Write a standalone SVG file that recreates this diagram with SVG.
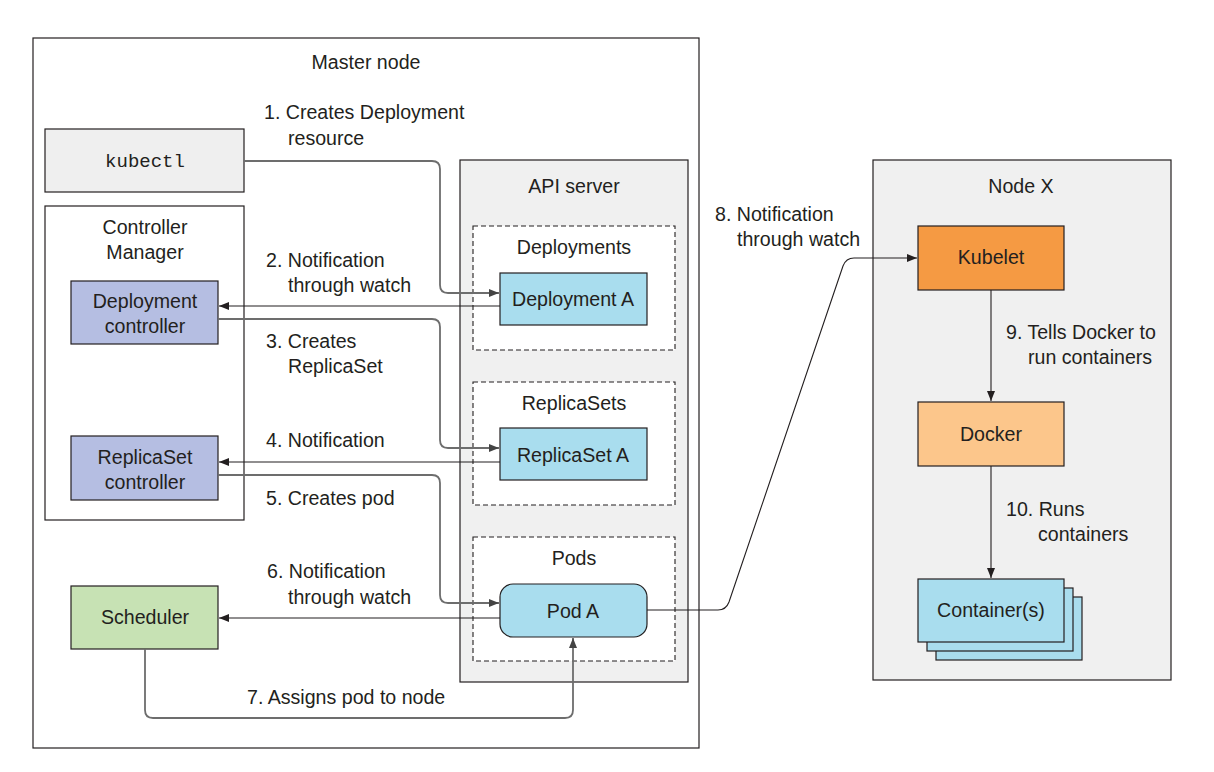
<svg xmlns="http://www.w3.org/2000/svg" width="1214" height="772" viewBox="0 0 1214 772">
<defs>
<style>
text{font-family:"Liberation Sans",Arial,sans-serif;font-size:19.6px;fill:#231f20}
.c{text-anchor:middle}
.mono{font-family:"Liberation Mono","Courier New",monospace;font-size:19px}
.box{stroke:#231f20;stroke-width:1.2}
.dash{fill:#fff;stroke:#231f20;stroke-width:1.1;stroke-dasharray:5 3}
.g{fill:none;stroke:#6d6d6d;stroke-width:1.8}
.k{fill:none;stroke:#231f20;stroke-width:1.1}
</style>
<marker id="ag" viewBox="0 0 10 8" refX="10" refY="4" markerWidth="10" markerHeight="8" markerUnits="userSpaceOnUse" orient="auto"><path d="M0,0 L10,4 L0,8 z" fill="#444"/></marker>
<marker id="ak" viewBox="0 0 10 8" refX="10" refY="4" markerWidth="10" markerHeight="8" markerUnits="userSpaceOnUse" orient="auto"><path d="M0,0 L10,4 L0,8 z" fill="#231f20"/></marker>
</defs>
<rect width="1214" height="772" fill="#fff"/>

<g id="master">
<rect class="box" x="33" y="38" width="666" height="710" fill="#fff"/>
<text class="c" x="366" y="69">Master node</text>
</g>

<g id="kubectl">
<rect class="box" x="45" y="129" width="199" height="63" fill="#efefef"/>
<text class="c mono" x="145" y="167">kubectl</text>
</g>

<g id="controller-manager">
<rect class="box" x="45" y="206" width="199" height="314" fill="#fff"/>
<text class="c" x="145" y="234">Controller</text>
<text class="c" x="145" y="259">Manager</text>
</g>

<g id="deployment-controller">
<rect class="box" x="71" y="281" width="147" height="63" fill="#b5bee2"/>
<text class="c" x="145" y="308">Deployment</text>
<text class="c" x="145" y="333">controller</text>
</g>

<g id="replicaset-controller">
<rect class="box" x="71" y="436" width="147" height="64" fill="#b5bee2"/>
<text class="c" x="145" y="464">ReplicaSet</text>
<text class="c" x="145" y="489">controller</text>
</g>

<g id="scheduler">
<rect class="box" x="71" y="586" width="147" height="63" fill="#c7e2b4"/>
<text class="c" x="145" y="624">Scheduler</text>
</g>

<g id="api-server">
<rect class="box" x="460" y="160" width="228" height="522" fill="#f0f0f0"/>
<text class="c" x="574" y="193">API server</text>
</g>

<g id="deployments">
<rect class="dash" x="473" y="226" width="202" height="124"/>
<text class="c" x="574" y="254">Deployments</text>
</g>
<g id="deployment-a">
<rect class="box" x="500" y="273" width="147" height="52" fill="#a9ddee"/>
<text class="c" x="573" y="306">Deployment A</text>
</g>

<g id="replicasets">
<rect class="dash" x="473" y="382" width="202" height="123"/>
<text class="c" x="574" y="410">ReplicaSets</text>
</g>
<g id="replicaset-a">
<rect class="box" x="500" y="428" width="147" height="52" fill="#a9ddee"/>
<text class="c" x="573" y="462">ReplicaSet A</text>
</g>

<g id="pods">
<rect class="dash" x="473" y="537" width="202" height="124"/>
<text class="c" x="574" y="565">Pods</text>
</g>
<g id="pod-a">
<rect class="box" x="500" y="584" width="147" height="53" rx="13" fill="#a9ddee"/>
<text class="c" x="573" y="618">Pod A</text>
</g>

<g id="node-x">
<rect class="box" x="873" y="160" width="298" height="520" fill="#f0f0f0"/>
<text class="c" x="1021" y="193">Node X</text>
</g>

<g id="kubelet">
<rect class="box" x="918" y="226" width="146" height="64" fill="#f59a43"/>
<text class="c" x="991" y="264">Kubelet</text>
</g>

<g id="docker">
<rect class="box" x="918" y="402" width="146" height="64" fill="#fcc68b"/>
<text class="c" x="991" y="441">Docker</text>
</g>

<g id="containers">
<rect class="box" x="936" y="597" width="146" height="63" fill="#a9ddee"/>
<rect class="box" x="927" y="588" width="146" height="63" fill="#a9ddee"/>
<rect class="box" x="918" y="579" width="146" height="63" fill="#a9ddee"/>
<text class="c" x="991" y="617">Container(s)</text>
</g>

<g id="connectors">
<path class="g" d="M244,161 H432 Q440,161 440,169 V285 Q440,293 448,293 H499" marker-end="url(#ag)"/>
<path class="k" d="M500,306 H219" marker-end="url(#ak)"/>
<path class="g" d="M218,319 H432 Q440,319 440,327 V440 Q440,448 448,448 H499" marker-end="url(#ag)"/>
<path class="k" d="M500,462 H219" marker-end="url(#ak)"/>
<path class="g" d="M218,475 H432 Q440,475 440,483 V595 Q440,603 448,603 H499" marker-end="url(#ag)"/>
<path class="k" d="M500,618 H219" marker-end="url(#ak)"/>
<path class="g" d="M145,649 V710 Q145,718 153,718 H565 Q573,718 573,710 V638" marker-end="url(#ag)"/>
<path class="k" d="M647,610 H718 Q726,610 729,602 L843,266 Q846,258 854,258 H917" marker-end="url(#ak)"/>
<path class="k" d="M991,290 V401" marker-end="url(#ak)"/>
<path class="k" d="M991,466 V578" marker-end="url(#ak)"/>
</g>

<g id="labels">
<text x="264" y="119">1. Creates Deployment</text>
<text x="288" y="145">resource</text>
<text x="266" y="267">2. Notification</text>
<text x="288" y="292">through watch</text>
<text x="266" y="348">3. Creates</text>
<text x="288" y="373">ReplicaSet</text>
<text x="266" y="447">4. Notification</text>
<text x="266" y="505">5. Creates pod</text>
<text x="267" y="578">6. Notification</text>
<text x="288" y="604">through watch</text>
<text x="247" y="704">7. Assigns pod to node</text>
<text x="715" y="221">8. Notification</text>
<text x="737" y="246">through watch</text>
<text x="1006" y="339">9. Tells Docker to</text>
<text x="1028" y="364">run containers</text>
<text x="1006" y="516">10. Runs</text>
<text x="1038" y="541">containers</text>
</g>
</svg>
